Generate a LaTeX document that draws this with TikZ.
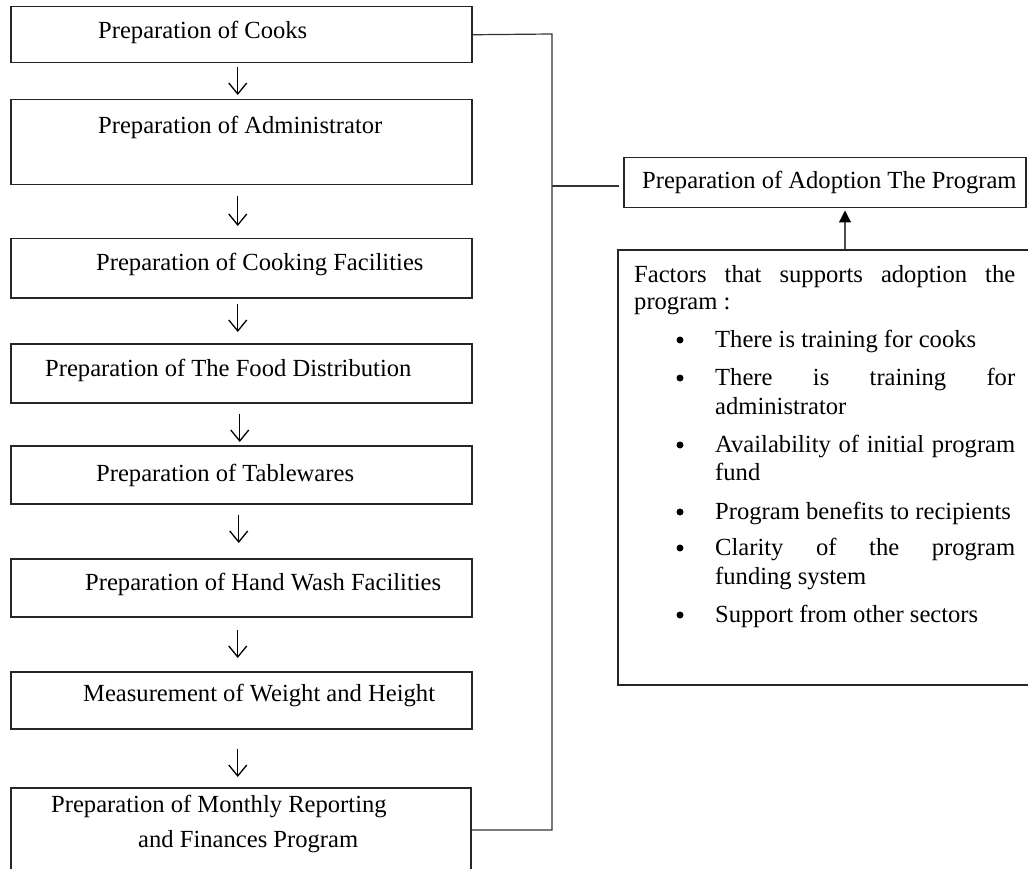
\documentclass[tikz,border=0pt]{standalone}
\usepackage{fontspec}
\setmainfont{Liberation Serif}
\usetikzlibrary{arrows.meta}
\begin{document}
\begin{tikzpicture}[x=1pt,y=-1pt,
  boxline/.style={draw=black!85,line width=1.5pt,inner sep=0pt,anchor=north west},
  txt/.style={anchor=base west,inner sep=0pt,font=\fontsize{24.6}{28}\selectfont},
  bul/.style={circle,fill=black,inner sep=0pt,minimum size=7pt},
  flow/.style={draw=black,line width=1.3pt,-{Straight Barb[length=11pt,width=18pt,line width=1.3pt]}},
  link/.style={draw=black!80,line width=1.2pt},
]
\useasboundingbox (0,0) rectangle (1028,869);

% left column boxes
\node[boxline,minimum width=461pt,minimum height=56pt] (b1) at (10,6) {};
\node[boxline,minimum width=461pt,minimum height=85pt] (b2) at (10,99) {};
\node[boxline,minimum width=461pt,minimum height=59pt] (b3) at (10,238) {};
\node[boxline,minimum width=461pt,minimum height=59pt] (b4) at (10,343) {};
\node[boxline,minimum width=461pt,minimum height=58pt] (b5) at (10,445) {};
\node[boxline,minimum width=461pt,minimum height=58pt] (b6) at (10,558) {};
\node[boxline,minimum width=461pt,minimum height=57pt] (b7) at (10,671) {};
\node[boxline,minimum width=460pt,minimum height=100pt] (b8) at (10,787) {};

% right boxes
\node[boxline,minimum width=402pt,minimum height=50pt] (adopt) at (623,157) {};
\node[boxline,minimum width=420pt,minimum height=435pt] (factors) at (617,249) {};

% texts of left boxes
\node[txt] (t1) at (98,39) {Preparation of Cooks};
\node[txt] (t2) at (98,134) {Preparation of Administrator};
\node[txt] (t3) at (96,270) {Preparation of Cooking Facilities};
\node[txt] (t4) at (45,376) {Preparation of The Food Distribution};
\node[txt] (t5) at (96,481) {Preparation of Tablewares};
\node[txt] (t6) at (85,590) {Preparation of Hand Wash Facilities};
\node[txt] (t7) at (83,701) {Measurement of Weight and Height};
\node[txt] (t8a) at (51,812) {Preparation of Monthly Reporting};
\node[txt] (t8b) at (138,847) {and Finances Program};

% adoption text
\node[txt] (ta) at (642,189) {Preparation of Adoption The Program};

% factors text
\node[txt] (f1) at (634,282) {\makebox[381pt][s]{Factors that supports adoption the}};
\node[txt] (f2) at (634,309) {program :};
\foreach \yy/\nm in {347/p1,385/p2,452/p3,519/p4,555/p5,622/p6}
  \node[bul] (\nm) at (680,\yy-7) {};
\node[txt] (i1) at (715,347) {There is training for cooks};
\node[txt] (i2a) at (715,385) {\makebox[300pt][s]{There is training for}};
\node[txt] (i2b) at (715,414) {administrator};
\node[txt] (i3a) at (715,452) {\makebox[300pt][s]{Availability of initial program}};
\node[txt] (i3b) at (715,480) {fund};
\node[txt] (i4) at (715,519) {Program benefits to recipients};
\node[txt] (i5a) at (715,555) {\makebox[300pt][s]{Clarity of the program}};
\node[txt] (i5b) at (715,584) {funding system};
\node[txt] (i6) at (715,622) {Support from other sectors};

% flow arrows
\draw[flow,shorten <=4pt,shorten >=4pt] ([xshift=-3.5pt]b1.south) -- ([xshift=-3.5pt]b2.north);
\draw[flow,shorten <=11pt,shorten >=12pt] ([xshift=-3.5pt]b2.south) -- ([xshift=-3.5pt]b3.north);
\draw[flow,shorten <=5pt,shorten >=11pt] ([xshift=-3.5pt]b3.south) -- ([xshift=-3.5pt]b4.north);
\draw[flow,shorten <=10pt,shorten >=3pt] ([xshift=-1.5pt]b4.south) -- ([xshift=-1.5pt]b5.north);
\draw[flow,shorten <=10pt,shorten >=15pt] ([xshift=-2.5pt]b5.south) -- ([xshift=-2.5pt]b6.north);
\draw[flow,shorten <=12pt,shorten >=13pt] ([xshift=-3.5pt]b6.south) -- ([xshift=-3.5pt]b7.north);
\draw[flow,shorten <=19pt,shorten >=10pt] ([xshift=-3.5pt]b7.south) -- ([xshift=-3pt]b8.north);

% bracket connector
\coordinate (c1) at (552,34);
\coordinate (c2) at (552,830);
\coordinate (c3) at (552,186);
\draw[link] (b1.east) -- (c1) -- (c2) -- (b8.east |- c2);
\draw[link,shorten >=4pt] (c3) -- (adopt.west |- c3);

% up arrow
\coordinate (ux) at (845,0);
\draw[draw=black!70,line width=1.2pt,-{Triangle[length=12pt,width=12pt,color=black]},shorten >=2pt] (factors.north -| ux) -- (adopt.south -| ux);
\end{tikzpicture}
\end{document}
